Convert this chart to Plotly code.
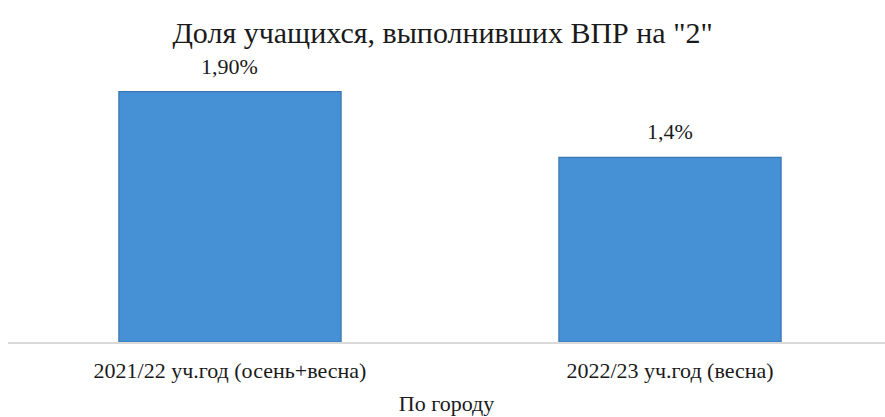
import plotly.graph_objects as go

categories = ["2021/22 уч.год (осень+весна)", "2022/23 уч.год (весна)"]
values = [1.90, 1.4]
value_labels = ["1,90%", "1,4%"]
title_text = 'Доля учащихся, выполнивших ВПР на "2"'
x_title = "По городу"

W, H = 885, 417
font_family = "Liberation Serif, serif"
txt_color = "#1a1a1a"

fig = go.Figure()
fig.add_trace(go.Bar(
    x=[0, 1],
    y=values,
    width=0.505,
    marker=dict(color="#4690d6", line=dict(color="#3a76b4", width=1.2)),
    hoverinfo="skip",
))

for i, (v, lab) in enumerate(zip(values, value_labels)):
    fig.add_annotation(
        x=i, y=v, xref="x", yref="y",
        text=lab, showarrow=False,
        yanchor="bottom", yshift=11,
        font=dict(family=font_family, size=22, color=txt_color),
    )

fig.update_layout(
    width=W, height=H,
    margin=dict(l=8, r=0, t=51.5, b=75, autoexpand=False),
    paper_bgcolor="white",
    plot_bgcolor="white",
    showlegend=False,
    font=dict(family=font_family, color=txt_color),
    title=dict(
        text=title_text,
        x=0.5, xanchor="center",
        y=1 - 32 / H, yanchor="middle", yref="container",
        font=dict(family=font_family, size=30, color=txt_color),
    ),
    xaxis=dict(
        range=[-0.5045, 1.4886],
        tickmode="array",
        tickvals=[0, 1],
        ticktext=categories,
        tickfont=dict(family=font_family, size=22, color=txt_color),
        ticklabelstandoff=8,
        automargin=False,
        showline=True, linecolor="#d9d9d9", linewidth=2,
        showgrid=False, zeroline=False, ticks="",
        title=dict(text=x_title, font=dict(family=font_family, size=22, color=txt_color), standoff=13),
    ),
    yaxis=dict(
        range=[0, 2.2],
        visible=False,
        automargin=False,
        showgrid=False, zeroline=False,
    ),
)

fig.write_html("out.html", config={"displayModeBar": False},
               post_script="document.body.style.margin='0';")
